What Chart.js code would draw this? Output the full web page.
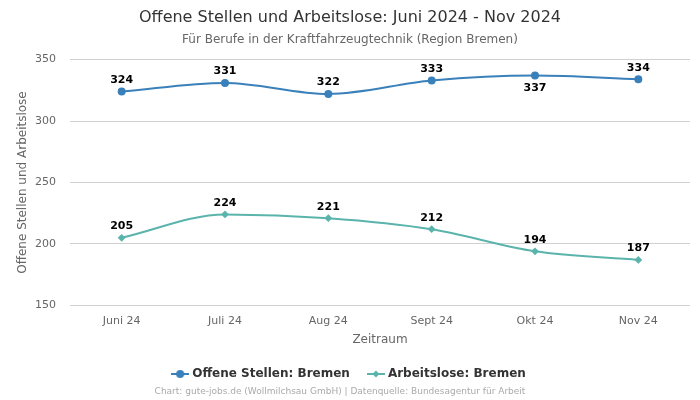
<!DOCTYPE html>
<html>
<head>
<meta charset="utf-8">
<script src="https://cdn.jsdelivr.net/npm/chart.js@4.4.1/dist/chart.umd.min.js"></script>
<style>
  body { margin: 0; background: #fff; }
  #wrap { width: 700px; height: 400px; }
</style>
</head>
<body>
<div id="wrap"><canvas id="chart" width="700" height="400"></canvas></div>
<script>
const labels = ['Juni 24', 'Juli 24', 'Aug 24', 'Sept 24', 'Okt 24', 'Nov 24'];
const offeneStellen = [324, 331, 322, 333, 337, 334];
const arbeitslose = [205, 224, 221, 212, 194, 187];
// Beschriftung unterhalb des Punktes (sonst oberhalb)
const labelBelow = [[4], []];

const blue = 'rgb(58, 128, 186)';
const teal = 'rgb(90, 180, 172)';
const fontFamily = '"DejaVu Sans", sans-serif';

function legendIcon(color, style) {
    const c = document.createElement('canvas');
    c.width = 18;
    c.height = 10;
    const ctx = c.getContext('2d');
    ctx.strokeStyle = color;
    ctx.fillStyle = color;
    ctx.lineWidth = 2;
    ctx.beginPath();
    ctx.moveTo(0, 5);
    ctx.lineTo(18, 5);
    ctx.stroke();
    ctx.beginPath();
    if (style === 'circle') {
        ctx.arc(9, 5, 4, 0, Math.PI * 2);
    } else {
        ctx.moveTo(9, 1.5);
        ctx.lineTo(12.5, 5);
        ctx.lineTo(9, 8.5);
        ctx.lineTo(5.5, 5);
        ctx.closePath();
    }
    ctx.fill();
    return c;
}

const valueLabels = {
    id: 'valueLabels',
    afterDatasetsDraw(chart) {
        const ctx = chart.ctx;
        ctx.save();
        ctx.font = 'bold 11px ' + fontFamily;
        ctx.fillStyle = '#000';
        ctx.textAlign = 'center';
        chart.data.datasets.forEach((ds, di) => {
            const meta = chart.getDatasetMeta(di);
            meta.data.forEach((pt, i) => {
                const below = labelBelow[di].includes(i);
                ctx.textBaseline = below ? 'top' : 'bottom';
                ctx.fillText(ds.data[i], pt.x, below ? pt.y + 7 : pt.y - 6);
            });
        });
        ctx.restore();
    }
};

const footer = {
    id: 'footer',
    afterDraw(chart) {
        const ctx = chart.ctx;
        ctx.save();
        ctx.font = '9px ' + fontFamily;
        ctx.fillStyle = '#aaa';
        ctx.textAlign = 'center';
        ctx.textBaseline = 'middle';
        ctx.fillText('Chart: gute-jobs.de (Wollmilchsau GmbH) | Datenquelle: Bundesagentur für Arbeit', 340, 392);
        ctx.restore();
    }
};

new Chart(document.getElementById('chart'), {
    type: 'line',
    data: {
        labels: labels,
        datasets: [{
            label: 'Offene Stellen: Bremen',
            data: offeneStellen,
            borderColor: blue,
            backgroundColor: blue,
            borderWidth: 2,
            pointStyle: 'circle',
            pointRadius: 3,
            cubicInterpolationMode: 'monotone',
            legendIcon: legendIcon(blue, 'circle')
        }, {
            label: 'Arbeitslose: Bremen',
            data: arbeitslose,
            borderColor: teal,
            backgroundColor: teal,
            borderWidth: 2,
            pointStyle: 'rectRot',
            pointRadius: 2.5,
            cubicInterpolationMode: 'monotone',
            legendIcon: legendIcon(teal, 'diamond')
        }]
    },
    options: {
        responsive: false,
        animation: false,
        layout: { padding: { left: 10, right: 10, top: 0, bottom: 10 } },
        scales: {
            x: {
                offset: true,
                grid: { display: false },
                border: { display: false },
                ticks: { color: '#666', padding: 1, font: { family: fontFamily, size: 11 } },
                title: { display: true, text: 'Zeitraum', color: '#666', padding: { top: 4, bottom: 1 }, font: { family: fontFamily, size: 12 } }
            },
            y: {
                min: 150,
                max: 350,
                afterFit(scale) { scale.width = 60; },
                ticks: { stepSize: 50, color: '#666', padding: 14, font: { family: fontFamily, size: 11 } },
                grid: { color: '#d0d0d0', drawTicks: false },
                border: { display: false },
                title: { display: true, text: 'Offene Stellen und Arbeitslose', color: '#666', padding: { top: 6, bottom: 0 }, font: { family: fontFamily, size: 12 } }
            }
        },
        plugins: {
            title: {
                display: true,
                text: 'Offene Stellen und Arbeitslose: Juni 2024 - Nov 2024',
                color: '#333',
                font: { family: fontFamily, size: 16, weight: 'normal' },
                padding: { top: 8, bottom: 5 }
            },
            subtitle: {
                display: true,
                text: 'Für Berufe in der Kraftfahrzeugtechnik (Region Bremen)',
                color: '#666',
                font: { family: fontFamily, size: 12 },
                padding: { bottom: 13 }
            },
            legend: {
                position: 'bottom',
                labels: {
                    color: '#333',
                    font: { family: fontFamily, size: 12, weight: 'bold' },
                    usePointStyle: true,
                    padding: 20,
                    generateLabels(chart) {
                        return chart.data.datasets.map((ds, i) => ({
                            text: ds.label,
                            pointStyle: ds.legendIcon,
                            fontColor: '#333',
                            datasetIndex: i,
                            hidden: !chart.isDatasetVisible(i)
                        }));
                    }
                }
            },
            tooltip: { enabled: false }
        }
    },
    plugins: [valueLabels, footer]
});
</script>
</body>
</html>
